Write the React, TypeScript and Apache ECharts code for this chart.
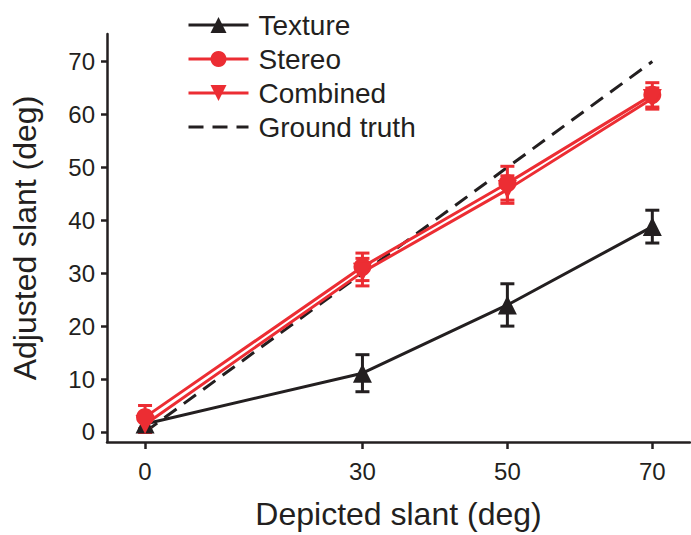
import React, { useEffect, useRef } from "react";
import * as echarts from "echarts";

const depicted = [0, 30, 50, 70];
const textureMean = [1.5, 11.1, 24.0, 38.8];
const textureErr = [1.0, 3.5, 4.0, 3.1];
const stereoMean = [2.8, 31.2, 47.0, 63.7];
const stereoErr = [2.2, 2.6, 3.2, 2.3];
const combinedMean = [1.4, 30.2, 45.8, 63.0];
const combinedErr = [1.5, 2.6, 2.6, 2.0];
const truthX = [0, 70];
const truthY = [0, 70];
const xTicks = [0, 30, 50, 70];
const yTicks = [0, 10, 20, 30, 40, 50, 60, 70];

const BLACK = "#231f20";
const RED = "#ec2d33";
const FONT = "Liberation Sans, Arial, Helvetica, sans-serif";

function errData(mean: number[], err: number[]) {
  return depicted.map((x, i) => [x, mean[i] - err[i], mean[i] + err[i]]);
}

function errSeries(name: string, mean: number[], err: number[], color: string) {
  return {
    type: "custom",
    name: name + "-err",
    data: errData(mean, err),
    z: 3,
    silent: true,
    encode: { x: 0, y: [1, 2] },
    renderItem: (params: any, api: any) => {
      const x = api.value(0);
      const lo = api.coord([x, api.value(1)]);
      const hi = api.coord([x, api.value(2)]);
      const hw = 7;
      const style = { stroke: color, lineWidth: 3, fill: "none" };
      return {
        type: "group",
        children: [
          { type: "line", shape: { x1: lo[0], y1: lo[1], x2: hi[0], y2: hi[1] }, style },
          { type: "line", shape: { x1: lo[0] - hw, y1: lo[1], x2: lo[0] + hw, y2: lo[1] }, style },
          { type: "line", shape: { x1: hi[0] - hw, y1: hi[1], x2: hi[0] + hw, y2: hi[1] }, style },
        ],
      };
    },
  };
}

export default function App() {
  const ref = useRef<HTMLDivElement>(null);
  useEffect(() => {
    if (!ref.current) return;
    const chart = echarts.init(ref.current, null, { renderer: "svg" });
    const option: any = {
      animation: false,
      textStyle: { fontFamily: FONT },
      grid: { left: 107, right: 1, top: 34, bottom: 91, containLabel: false },
      legend: {
        orient: "vertical",
        left: 182,
        top: 6,
        itemWidth: 60,
        itemHeight: 20,
        itemGap: 6,
        lineStyle: { width: 3 },
        data: [
          "Texture",
          "Stereo",
          "Combined",
          { name: "Ground truth", itemStyle: { opacity: 0 } },
        ],
        textStyle: { fontSize: 28, color: BLACK, fontFamily: FONT, lineHeight: 28, padding: [0, 0, 0, 5] },
      },
      xAxis: {
        type: "value",
        min: -5.25,
        max: 75.2,
        name: "Depicted slant (deg)",
        nameLocation: "middle",
        nameGap: 56,
        nameTextStyle: { fontSize: 32, color: BLACK, fontFamily: FONT },
        axisLine: { show: true, onZero: false, lineStyle: { color: BLACK, width: 2.5 } },
        axisTick: { show: true, length: 7, customValues: xTicks, lineStyle: { color: BLACK, width: 2.5 } },
        axisLabel: { customValues: xTicks, fontSize: 24, color: BLACK, margin: 17, fontFamily: FONT },
        splitLine: { show: false },
      },
      yAxis: {
        type: "value",
        min: -1.9,
        max: 75.2,
        name: "Adjusted slant (deg)",
        nameLocation: "middle",
        nameGap: 66,
        nameTextStyle: { fontSize: 32, color: BLACK, fontFamily: FONT },
        axisLine: { show: true, onZero: false, lineStyle: { color: BLACK, width: 2.5 } },
        axisTick: { show: true, length: 6, customValues: yTicks, lineStyle: { color: BLACK, width: 2.5 } },
        axisLabel: { customValues: yTicks, fontSize: 24, color: BLACK, margin: 12, fontFamily: FONT },
        splitLine: { show: false },
      },
      series: [
        {
          type: "line",
          name: "Ground truth",
          data: truthX.map((x, i) => [x, truthY[i]]),
          symbol: "none",
          lineStyle: { color: BLACK, width: 3, type: [15, 9] },
          itemStyle: { color: BLACK },
          z: 1,
        },
        errSeries("Texture", textureMean, textureErr, BLACK),
        errSeries("Stereo", stereoMean, stereoErr, RED),
        errSeries("Combined", combinedMean, combinedErr, RED),
        {
          type: "line",
          name: "Texture",
          data: depicted.map((x, i) => [x, textureMean[i]]),
          symbol: "triangle",
          symbolSize: 19,
          lineStyle: { color: BLACK, width: 3 },
          itemStyle: { color: BLACK },
          z: 4,
        },
        {
          type: "line",
          name: "Stereo",
          data: depicted.map((x, i) => [x, stereoMean[i]]),
          symbol: "circle",
          symbolSize: 18,
          lineStyle: { color: RED, width: 3 },
          itemStyle: { color: RED },
          z: 4,
        },
        {
          type: "line",
          name: "Combined",
          data: depicted.map((x, i) => [x, combinedMean[i]]),
          symbol: "triangle",
          symbolRotate: 180,
          symbolSize: 19,
          lineStyle: { color: RED, width: 3 },
          itemStyle: { color: RED },
          z: 4,
        },
      ],
    };
    chart.setOption(option);
    return () => chart.dispose();
  }, []);
  return <div ref={ref} style={{ width: 691, height: 535, position: "absolute", left: 0, top: 0 }} />;
}
